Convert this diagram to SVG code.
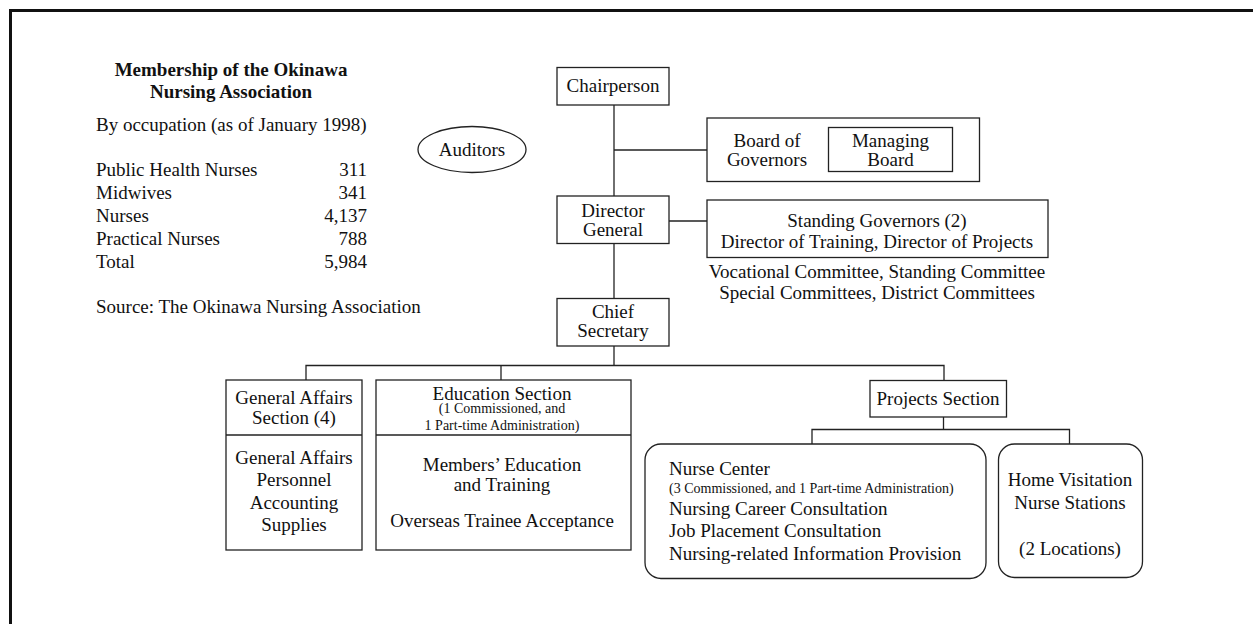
<svg xmlns="http://www.w3.org/2000/svg" width="1253" height="624" viewBox="0 0 1253 624">
  <style>
    text { font-family: "Liberation Serif", "Times New Roman", serif; font-size: 19px; fill: #111; }
    .b { font-weight: bold; }
    .sm { font-size: 14px; }
    .c { text-anchor: middle; }
    .r { text-anchor: end; }
    .box { fill: #fff; stroke: #222; stroke-width: 1.3; }
    .ln { fill: none; stroke: #222; stroke-width: 1.3; }
  </style>
  <rect width="1253" height="624" fill="#fff"/>

  <!-- outer frame: top and left edges -->
  <path d="M10.5 624 V10.5 H1253" fill="none" stroke="#111" stroke-width="3"/>

  <!-- membership table -->
  <g id="membership">
    <text class="b c" x="231" y="76">Membership of the Okinawa</text>
    <text class="b c" x="231" y="98">Nursing Association</text>
    <text x="96" y="131">By occupation (as of January 1998)</text>
    <text x="96" y="176">Public Health Nurses</text>
    <text class="r" x="367" y="176">311</text>
    <text x="96" y="199">Midwives</text>
    <text class="r" x="367" y="199">341</text>
    <text x="96" y="222">Nurses</text>
    <text class="r" x="367" y="222">4,137</text>
    <text x="96" y="245">Practical Nurses</text>
    <text class="r" x="367" y="245">788</text>
    <text x="96" y="268">Total</text>
    <text class="r" x="367" y="268">5,984</text>
    <text x="96" y="313">Source: The Okinawa Nursing Association</text>
  </g>

  <!-- connectors -->
  <g id="connectors">
    <path class="ln" d="M614 105 V298"/>
    <path class="ln" d="M614 150 H707"/>
    <path class="ln" d="M669 221 H707"/>
    <path class="ln" d="M614 346 V365.5"/>
    <path class="ln" d="M306 380 V365.5 H944 V380"/>
    <path class="ln" d="M501 365.5 V380"/>
    <path class="ln" d="M943.5 417 V429.5"/>
    <path class="ln" d="M812 444 V429.5 H1069.5 V444"/>
  </g>

  <g id="auditors">
    <ellipse class="box" cx="472" cy="149.5" rx="54" ry="23"/>
    <text class="c" x="472" y="156">Auditors</text>
  </g>

  <g id="chairperson">
    <rect class="box" x="557" y="67.5" width="112" height="37.5"/>
    <text class="c" x="613" y="92">Chairperson</text>
  </g>

  <g id="board">
    <rect class="box" x="707" y="118" width="272.5" height="63.5"/>
    <text class="c" x="767" y="147">Board of</text>
    <text class="c" x="767" y="166">Governors</text>
    <rect class="box" x="828.5" y="127.5" width="124" height="44"/>
    <text class="c" x="890.5" y="147">Managing</text>
    <text class="c" x="890.5" y="166">Board</text>
  </g>

  <g id="director-general">
    <rect class="box" x="557" y="196" width="112" height="47.5"/>
    <text class="c" x="613" y="217">Director</text>
    <text class="c" x="613" y="236">General</text>
  </g>

  <g id="standing-governors">
    <rect class="box" x="707" y="200" width="341" height="57.5"/>
    <text class="c" x="877" y="227">Standing Governors (2)</text>
    <text class="c" x="877" y="248">Director of Training, Director of Projects</text>
  </g>

  <g id="committees">
    <text class="c" x="877" y="278">Vocational Committee, Standing Committee</text>
    <text class="c" x="877" y="299">Special Committees, District Committees</text>
  </g>

  <g id="chief-secretary">
    <rect class="box" x="557" y="298.5" width="112" height="47.5"/>
    <text class="c" x="613" y="317.5">Chief</text>
    <text class="c" x="613" y="337">Secretary</text>
  </g>

  <g id="general-affairs">
    <rect class="box" x="226" y="380" width="136" height="170"/>
    <path class="ln" d="M226 435 H362"/>
    <text class="c" x="294" y="403.5">General Affairs</text>
    <text class="c" x="294" y="423.5">Section (4)</text>
    <text class="c" x="294" y="463.5">General Affairs</text>
    <text class="c" x="294" y="485.5">Personnel</text>
    <text class="c" x="294" y="508.5">Accounting</text>
    <text class="c" x="294" y="531">Supplies</text>
  </g>

  <g id="education">
    <rect class="box" x="376" y="380" width="255" height="170"/>
    <path class="ln" d="M376 435 H631"/>
    <text class="c" x="502" y="399.5">Education Section</text>
    <text class="c sm" x="502" y="413">(1 Commissioned, and</text>
    <text class="c sm" x="502" y="429.5">1 Part-time Administration)</text>
    <text class="c" x="502" y="471">Members’ Education</text>
    <text class="c" x="502" y="491">and Training</text>
    <text class="c" x="502" y="527">Overseas Trainee Acceptance</text>
  </g>

  <g id="projects">
    <rect class="box" x="870" y="380.5" width="136.5" height="36.5"/>
    <text class="c" x="938" y="405">Projects Section</text>
  </g>

  <g id="nurse-center">
    <rect class="box" x="645" y="444" width="341" height="134.5" rx="16" ry="16"/>
    <text x="669" y="474.5">Nurse Center</text>
    <text class="sm" x="669" y="492.5">(3 Commissioned, and 1 Part-time Administration)</text>
    <text x="669" y="514.5">Nursing Career Consultation</text>
    <text x="669" y="537">Job Placement Consultation</text>
    <text x="669" y="559.5">Nursing-related Information Provision</text>
  </g>

  <g id="home-visitation">
    <rect class="box" x="998.5" y="444" width="144" height="133.5" rx="16" ry="16"/>
    <text class="c" x="1070" y="486">Home Visitation</text>
    <text class="c" x="1070" y="508.5">Nurse Stations</text>
    <text class="c" x="1070" y="555">(2 Locations)</text>
  </g>
</svg>
